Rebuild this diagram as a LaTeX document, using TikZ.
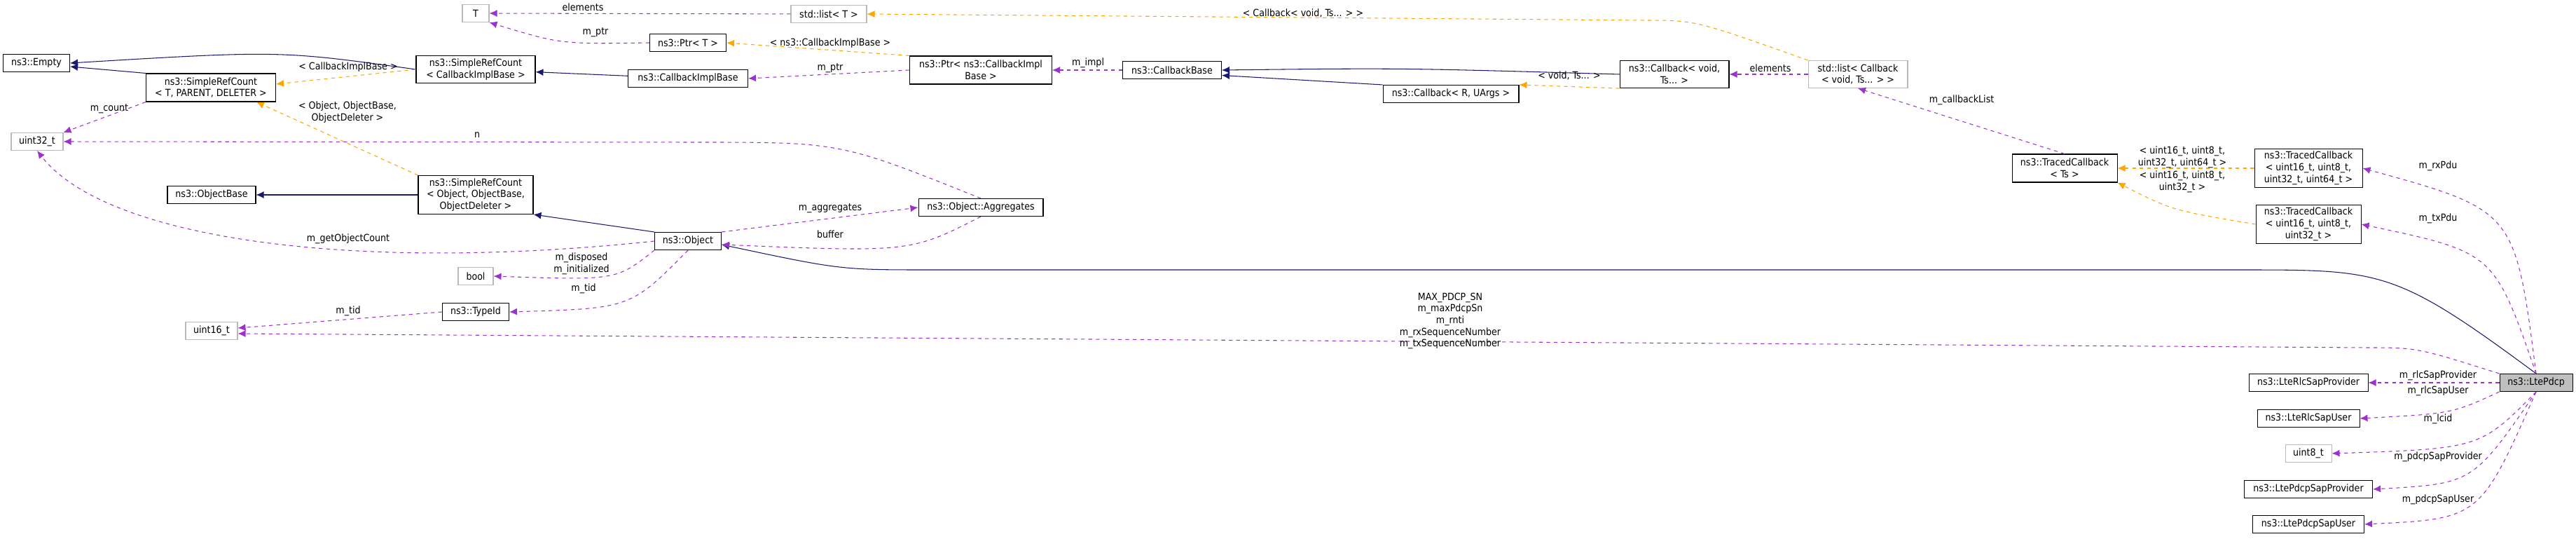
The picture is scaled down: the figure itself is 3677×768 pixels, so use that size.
\documentclass[tikz,border=0pt]{standalone}
\usepackage{fontspec}
\setmainfont{DejaVu Sans Condensed}
\usepackage{tikz}
\usetikzlibrary{arrows,arrows.meta}
\usetikzlibrary{positioning}
\definecolor{inhblue}{HTML}{191970}
\definecolor{usepurple}{HTML}{9A32CD}
\definecolor{tplorange}{HTML}{FFA500}
\tikzstyle{block} = [draw=black, fill=white, rectangle, line width=0.6pt,
    inner sep=1pt, minimum height=0.5cm, align=center, font=\fontsize{8}{9.5}\selectfont]
\tikzstyle{extblock} = [block, draw=gray!55]
\tikzstyle{inh} = [->, draw=inhblue, line width=0.6pt]
\tikzstyle{use} = [->, draw=usepurple, dashed, line width=0.6pt]
\tikzstyle{tpl} = [->, draw=tplorange, dashed, line width=0.6pt]
\tikzstyle{lbl} = [align=center, font=\fontsize{8}{9.5}\selectfont]

\begin{document}
\begin{tikzpicture}[x=0.02cm, y=-0.02cm, >={Latex[length=2.2mm,width=2mm]}]
    \useasboundingbox (0,0) rectangle (3677,768);
    % classes
    \node [extblock, minimum width=0.76cm] at (679,19) (T) {T};
    \node [extblock, minimum width=2.16cm] at (1183,20) (listT) {std::list< T >};
    \node [block, minimum width=2.18cm] at (982,61) (ptrT) {ns3::Ptr< T >};
    \node [block, minimum width=1.9cm] at (52,90) (empty) {ns3::Empty};
    \node [block, minimum width=3.4cm, minimum height=0.78cm] at (679,99) (srcCib) {ns3::SimpleRefCount\\< CallbackImplBase >};
    \node [block, minimum width=3.7cm, minimum height=0.8cm] at (301,125) (srcT) {ns3::SimpleRefCount\\< T, PARENT, DELETER >};
    \node [block, minimum width=3.42cm] at (982,112) (cib) {ns3::CallbackImplBase};
    \node [block, minimum width=4.06cm, minimum height=0.8cm] at (1400,100) (ptrCib) {ns3::Ptr< ns3::CallbackImpl\\Base >};
    \node [block, minimum width=2.82cm] at (1673,100) (cbBase) {ns3::CallbackBase};
    \node [block, minimum width=3.88cm] at (2071,134) (cbR) {ns3::Callback< R, UArgs >};
    \node [block, minimum width=3.12cm, minimum height=0.78cm] at (2390,106) (cbVoid) {ns3::Callback< void,\\Ts... >};
    \node [extblock, minimum width=2.84cm, minimum height=0.78cm] at (2652,106) (listCb) {std::list< Callback\\< void, Ts... > >};
    \node [extblock, minimum width=1.48cm] at (53,202) (u32) {uint32\_t};
    \node [block, minimum width=2.52cm] at (302,278) (objBase) {ns3::ObjectBase};
    \node [block, minimum width=3.28cm, minimum height=1.1cm] at (679,278) (srcObj) {ns3::SimpleRefCount\\< Object, ObjectBase,\\ObjectDeleter >};
    \node [block, minimum width=1.9cm] at (982,344) (obj) {ns3::Object};
    \node [block, minimum width=3.56cm] at (1400,296) (aggr) {ns3::Object::Aggregates};
    \node [extblock, minimum width=1.0cm] at (679,394) (bool) {bool};
    \node [block, minimum width=1.9cm] at (679,445) (typeId) {ns3::TypeId};
    \node [extblock, minimum width=1.48cm] at (302,472) (u16) {uint16\_t};
    \node [block, minimum width=3.0cm, minimum height=0.8cm] at (2947,240) (tcTs) {ns3::TracedCallback\\< Ts >};
    \node [block, minimum width=3.08cm, minimum height=1.1cm] at (3295,240) (tcRx) {ns3::TracedCallback\\< uint16\_t, uint8\_t,\\uint32\_t, uint64\_t >};
    \node [block, minimum width=3.0cm, minimum height=1.1cm] at (3295,320) (tcTx) {ns3::TracedCallback\\< uint16\_t, uint8\_t,\\uint32\_t >};
    \node [block, fill=gray!50, minimum width=2.08cm] at (3620,546) (pdcp) {ns3::LtePdcp};
    \node [block, minimum width=3.4cm] at (3295,546) (rlcProv) {ns3::LteRlcSapProvider};
    \node [block, minimum width=2.92cm] at (3295,597) (rlcUser) {ns3::LteRlcSapUser};
    \node [extblock, minimum width=1.32cm] at (3295,647) (u8) {uint8\_t};
    \node [block, minimum width=3.66cm] at (3295,698) (pdcpProv) {ns3::LtePdcpSapProvider};
    \node [block, minimum width=3.18cm] at (3295,748) (pdcpUser) {ns3::LtePdcpSapUser};
    % inheritance
    \draw [inh] (srcCib.west) .. controls (400,72) .. (empty.east);
    \draw [inh] (srcT.north west) -- ([yshift=-0.1cm]empty.east);
    \draw [inh] (srcObj) -- (objBase);
    \draw [inh] (obj.north west) -- (srcObj.south east);
    \draw [inh] (cib) -- (srcCib);
    \draw [inh] (cbVoid.west) .. controls (2000,97) .. (cbBase.east);
    \draw [inh] (cbR.north west) -- ([yshift=-0.15cm]cbBase.east);
    \draw [inh] (pdcp.north) .. controls (3420,385) and (3400,385) .. (3200,385) -- (1330,385) .. controls (1200,385) .. ([yshift=-0.1cm]obj.east);
    % template instances
    \draw [tpl] (srcCib.west) -- ([yshift=0.1cm]srcT.east);
    \draw [tpl] (srcObj.north west) -- ([xshift=1.3cm]srcT.south);
    \draw [tpl] (ptrCib.north west) -- (ptrT.east);
    \draw [tpl] (cbVoid.south west) -- (cbR.north east);
    \draw [tpl] (listCb.north west) .. controls (2420,29) .. (2350,29) -- (listT.east);
    \draw [tpl] (tcRx) -- (tcTs);
    \draw [tpl] (tcTx.west) .. controls (3100,300) .. (tcTs.south east);
    % usage
    \draw [use] (listT) -- (T);
    \draw [use] (ptrT.west) .. controls (800,63) .. (T.south east);
    \draw [use] (srcT.south west) -- (u32.north east);
    \draw [use] (aggr.north) .. controls (1200,203) .. (1000,203) -- (u32.east);
    \draw [use] (obj.west) .. controls (500,390) and (150,340) .. (u32.south);
    \draw [use] (obj.south west) .. controls (880,400) .. (bool.east);
    \draw [use] (obj.south) .. controls (900,440) .. (typeId.east);
    \draw [use] (typeId.west) -- ([yshift=0.08cm]u16.east);
    \draw [use] (pdcp.north west) .. controls (3450,496) .. (3380,496) -- ([yshift=-0.08cm]u16.east);
    \draw [use] (obj.north east) -- (aggr.west);
    \draw [use] (aggr.south) .. controls (1300,360) .. ([yshift=-0.1cm]obj.east);
    \draw [use] (ptrCib.west) -- (cib.east);
    \draw [use] (cbBase) -- (ptrCib);
    \draw [use] (listCb) -- (cbVoid);
    \draw [use] (tcTs.north) -- (listCb.south);
    \draw [use] (pdcp.north) .. controls (3590,300) .. (tcRx.east);
    \draw [use] (pdcp.north) .. controls (3560,360) .. (tcTx.east);
    \draw [use] (pdcp) -- (rlcProv);
    \draw [use] (pdcp.south west) .. controls (3500,590) .. (rlcUser.east);
    \draw [use] (pdcp.south) .. controls (3540,640) .. (u8.east);
    \draw [use] (pdcp.south) .. controls (3530,690) .. (pdcpProv.east);
    \draw [use] (pdcp.south) .. controls (3540,740) .. (pdcpUser.east);
    % labels
    \draw node [lbl] at (832,10) {elements};
    \draw node [lbl] at (850,46) {m\_ptr};
    \draw node [lbl] at (497,96) {< CallbackImplBase >};
    \draw node [lbl] at (156,155) {m\_count};
    \draw node [lbl] at (496,160) {< Object, ObjectBase,\\ObjectDeleter >};
    \draw node [lbl] at (681,193) {n};
    \draw node [lbl] at (497,341) {m\_getObjectCount};
    \draw node [lbl] at (830,376) {m\_disposed\\m\_initialized};
    \draw node [lbl] at (833,412) {m\_tid};
    \draw node [lbl] at (497,444) {m\_tid};
    \draw node [lbl] at (1185,297) {m\_aggregates};
    \draw node [lbl] at (1185,334) {buffer};
    \draw node [lbl] at (1185,62) {< ns3::CallbackImplBase >};
    \draw node [lbl] at (1185,97) {m\_ptr};
    \draw node [lbl] at (1553,90) {m\_impl};
    \draw node [lbl] at (1860,19) {< Callback< void, Ts... > >};
    \draw node [lbl] at (2240,108) {< void, Ts... >};
    \draw node [lbl] at (2527,97) {elements};
    \draw node [lbl] at (2800,143) {m\_callbackList};
    \draw node [lbl] at (3115,224) {< uint16\_t, uint8\_t,\\uint32\_t, uint64\_t >};
    \draw node [lbl] at (3115,259) {< uint16\_t, uint8\_t,\\uint32\_t >};
    \draw node [lbl] at (3480,237) {m\_rxPdu};
    \draw node [lbl] at (3480,312) {m\_txPdu};
    \draw node [lbl] at (2070,458) {MAX\_PDCP\_SN\\m\_maxPdcpSn\\m\_rnti\\m\_rxSequenceNumber\\m\_txSequenceNumber};
    \draw node [lbl] at (3480,536) {m\_rlcSapProvider};
    \draw node [lbl] at (3480,558) {m\_rlcSapUser};
    \draw node [lbl] at (3480,598) {m\_lcid};
    \draw node [lbl] at (3480,652) {m\_pdcpSapProvider};
    \draw node [lbl] at (3480,713) {m\_pdcpSapUser};
\end{tikzpicture}
\end{document}
